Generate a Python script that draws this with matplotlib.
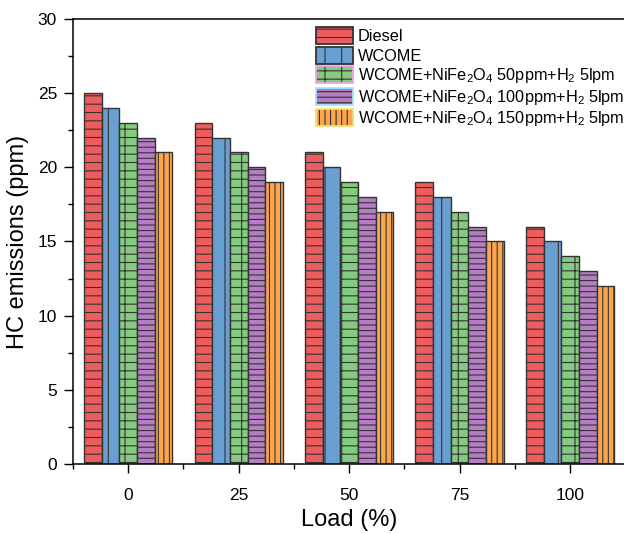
import numpy as np
import matplotlib
matplotlib.use('Agg')
import matplotlib.pyplot as plt
from matplotlib.patches import Patch
from matplotlib.legend_handler import HandlerTuple
from matplotlib.ticker import MultipleLocator

plt.rcParams['font.family'] = 'Liberation Sans'
plt.rcParams['mathtext.fontset'] = 'custom'
plt.rcParams['mathtext.rm'] = 'Liberation Sans'
plt.rcParams['mathtext.it'] = 'Liberation Sans'
plt.rcParams['mathtext.default'] = 'regular'
plt.rcParams['hatch.linewidth'] = 0.8

# HC emissions at each engine load
loads = [0, 25, 50, 75, 100]
diesel = [25, 23, 21, 19, 16]
wcome = [24, 22, 20, 18, 15]
wcome_50 = [23, 21, 19, 17, 14]
wcome_100 = [22, 20, 18, 16, 13]
wcome_150 = [21, 19, 17, 15, 12]

labels = ['Diesel', 'WCOME',
          'WCOME+NiFe$_2$O$_4$ 50ppm+H$_2$ 5lpm',
          'WCOME+NiFe$_2$O$_4$ 100ppm+H$_2$ 5lpm',
          'WCOME+NiFe$_2$O$_4$ 150ppm+H$_2$ 5lpm']
series = [diesel, wcome, wcome_50, wcome_100, wcome_150]
colors = ['#EE5D5D', '#6A9FD2', '#84CA7F', '#B57DC3', '#FBA64D']
hatches = ['--', '|', '+-', '---', '|||']
legend_edges = ['#333333', '#333333', '#F0A0F0', '#9FE8F5', '#F5E070']

fig = plt.figure(figsize=(6.24, 5.33), dpi=100)
ax = fig.add_axes([0.117, 0.1295, 0.885, 0.835])

x = np.array(loads, dtype=float)
width = 4
handles = []
for i, (vals, c, h, le) in enumerate(zip(series, colors, hatches, legend_edges)):
    ax.bar(x + (i - 2) * width, vals, width=width, color=c, hatch=h,
           edgecolor='#333333', linewidth=1.0)
    fill = Patch(facecolor=c, hatch=h, edgecolor='#333333', linewidth=0)
    border = Patch(facecolor='none', edgecolor=le, linewidth=1.3)
    handles.append((fill, border))

ax.set_xlim(-12.5, 112.5)
ax.set_ylim(0, 30)
ax.set_xticks(loads)
ax.xaxis.set_minor_locator(MultipleLocator(25, offset=12.5))
ax.yaxis.set_major_locator(MultipleLocator(5))
ax.yaxis.set_minor_locator(MultipleLocator(2.5))
ax.tick_params(which='major', direction='out', length=6.5, width=1, labelsize=12.5)
ax.tick_params(which='minor', direction='out', length=3.5, width=1)
ax.tick_params(axis='x', which='major', pad=11)
ax.tick_params(axis='y', which='major', pad=5)
for s in ax.spines.values():
    s.set_linewidth(1.1)

ax.set_xlabel('Load (%)', fontsize=17, labelpad=4)
ax.set_ylabel('HC emissions (ppm)', fontsize=17, labelpad=6)

ax.legend(handles, labels, handler_map={tuple: HandlerTuple(ndivide=1)},
          loc='upper left', bbox_to_anchor=(0.425, 1.0), frameon=False,
          fontsize=11.7, handlelength=2.3, handleheight=1.25,
          handletextpad=0.3, labelspacing=0.15, borderaxespad=0.1)

fig.savefig('out.png', dpi=100)
